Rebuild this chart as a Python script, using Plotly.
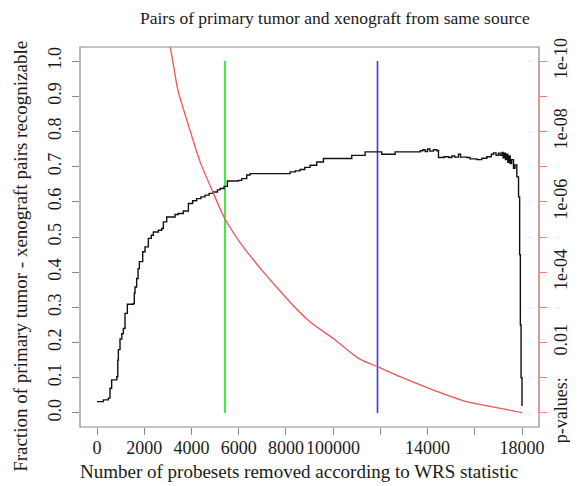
import plotly.graph_objects as go

# ---- data ----
frac_x = [0, 270, 480, 550, 620, 840, 880, 905, 975, 1050, 1115, 1186, 1285, 1540, 1580, 1610,
          1680, 1740, 1794, 1935, 2034, 2175, 2300, 2387, 2600, 2740, 2811, 2952, 3305, 3446,
          3658, 3870, 4050, 4220, 4400, 4576, 4750, 4928, 5100, 5212, 5381, 5522, 5988, 6130,
          6342, 6483, 8037, 8178, 8400, 8602, 8800, 9025, 9308, 9590, 10790, 11356, 12060,
          12627, 13686, 13800, 13900, 14000, 14100, 14250, 14392, 14463, 14700, 14900, 15028,
          15150, 15310, 15400, 15664, 15800, 16087, 16300, 16510, 16700, 16793, 16900, 17000,
          17076, 17150, 17200, 17250, 17300, 17350, 17400, 17450, 17500, 17560, 17640, 17700,
          17781, 17853, 17900, 17930, 17960, 18000]
frac_y = [0.032, 0.037, 0.042, 0.070, 0.094, 0.103, 0.150, 0.180, 0.210, 0.225, 0.240, 0.283,
          0.309, 0.311, 0.340, 0.358, 0.382, 0.410, 0.430, 0.458, 0.472, 0.496, 0.505, 0.514,
          0.519, 0.524, 0.543, 0.557, 0.564, 0.567, 0.574, 0.595, 0.603, 0.609, 0.614, 0.619,
          0.624, 0.628, 0.634, 0.638, 0.644, 0.659, 0.661, 0.666, 0.676, 0.680, 0.680, 0.685,
          0.688, 0.692, 0.698, 0.704, 0.713, 0.723, 0.732, 0.742, 0.735, 0.742, 0.745, 0.748,
          0.743, 0.750, 0.744, 0.748, 0.745, 0.726, 0.728, 0.726, 0.730, 0.727, 0.735, 0.727,
          0.726, 0.722, 0.720, 0.724, 0.728, 0.735, 0.739, 0.732, 0.738, 0.732, 0.740, 0.725,
          0.738, 0.720, 0.735, 0.712, 0.730, 0.709, 0.720, 0.695, 0.705, 0.671, 0.614, 0.450,
          0.250, 0.100, 0.020]

# p-value curve, stored as -log10(p)
pval_x = [2900, 3100, 3430, 3640, 3940, 4360, 4860, 5400, 6000, 6900, 7600, 8300, 9000,
          10000, 11070, 11900, 12840, 14250, 15660, 17080, 17920, 18000]
pval_neglog10 = [10.9, 10.4, 9.16, 8.68, 8.03, 7.15, 6.35, 5.54, 4.90, 4.12, 3.58, 3.06, 2.60,
                 2.12, 1.55, 1.31, 1.03, 0.65, 0.32, 0.13, 0.02, 0.0]

green_x = 5420
blue_x = 11880

x_ticks = [0, 2000, 4000, 6000, 8000, 10000, 12000, 14000, 16000, 18000]
x_ticklabels = ["0", "2000", "4000", "6000", "8000", "100000", "", "14000", "", "18000"]
y_ticks = [0.0, 0.1, 0.2, 0.3, 0.4, 0.5, 0.6, 0.7, 0.8, 0.9, 1.0]
y_ticklabels = ["0.0", "0.1", "0.2", "0.3", "0.4", "0.5", "0.6", "0.7", "0.8", "0.9", "1.0"]
p_ticks = [0, 1, 2, 3, 4, 5, 6, 7, 8, 9, 10]
p_ticklabels = ["p-values:", "", "0.01", "", "1e-04", "", "1e-06", "", "1e-08", "", "1e-10"]

title = "Pairs of primary tumor and xenograft from same source"
x_title = "Number of probesets removed according to WRS statistic"
y_title = "Fraction of primary tumor - xenograft pairs recognizable"

FONT = "Liberation Serif"
GREY = "#8a8a8a"
TXT = "#1a1a1a"
TICKSIZE = 18

fig = go.Figure()
fig.add_trace(go.Scatter(x=[green_x, green_x], y=[0, 1], mode="lines",
                         line=dict(color="#40ec40", width=2), hoverinfo="skip"))
fig.add_trace(go.Scatter(x=[blue_x, blue_x], y=[0, 1], mode="lines",
                         line=dict(color="#3a3af0", width=1.6), hoverinfo="skip"))
fig.add_trace(go.Scatter(x=pval_x, y=pval_neglog10, mode="lines", yaxis="y2",
                         line=dict(color="#f25555", width=1.3, shape="spline", smoothing=0.7)))
fig.add_trace(go.Scatter(x=frac_x, y=frac_y, mode="lines", line_shape="hv",
                         line=dict(color="#111111", width=1.4)))

# the page body has an 8px margin, so the figure is 8px smaller and its margins shifted
fig.update_layout(
    template="none",
    width=570, height=478,
    margin=dict(l=72, r=39, t=39, b=59, autoexpand=False),
    paper_bgcolor="white", plot_bgcolor="white",
    showlegend=False,
    font=dict(family=FONT, color=TXT),
    xaxis=dict(range=[-720, 18720], tickvals=x_ticks, ticktext=x_ticklabels,
               ticks="outside", ticklen=7, tickcolor=GREY, tickwidth=1, tickangle=0,
               showgrid=False, zeroline=False, showline=False, automargin=False,
               ticklabelstandoff=-3,
               tickfont=dict(size=TICKSIZE, family=FONT, color=TXT)),
    yaxis=dict(range=[-0.04, 1.04], tickvals=y_ticks, ticktext=y_ticklabels,
               ticks="outside", ticklen=7, tickcolor=GREY, tickwidth=1, tickangle=-90,
               showgrid=False, zeroline=False, showline=False, automargin=False,
               ticklabelstandoff=4,
               tickfont=dict(size=TICKSIZE, family=FONT, color=TXT)),
    yaxis2=dict(range=[-0.4, 10.4], overlaying="y", side="right",
                tickvals=p_ticks, ticktext=p_ticklabels,
                ticks="outside", ticklen=7, tickcolor="#f47a7a", tickwidth=1, tickangle=-90,
                showgrid=False, zeroline=False, showline=False, automargin=False,
                ticklabelstandoff=-2,
                tickfont=dict(size=TICKSIZE, family=FONT, color=TXT)),
    shapes=[
        dict(type="rect", xref="paper", yref="paper", x0=0, x1=1, y0=0, y1=1,
             line=dict(color=GREY, width=1.2)),
        dict(type="line", xref="paper", yref="y2", x0=1, x1=1, y0=0, y1=10,
             line=dict(color="#f47a7a", width=1)),
    ],
    annotations=[
        dict(text=title, xref="paper", yref="paper", x=0.555, y=1.076,
             showarrow=False, xanchor="center", yanchor="middle",
             font=dict(size=17.5, family=FONT, color=TXT)),
        dict(text=x_title, xref="paper", yref="paper", x=0.477, y=-0.118,
             showarrow=False, xanchor="center", yanchor="middle",
             font=dict(size=19, family=FONT, color=TXT)),
        dict(text=y_title, xref="paper", yref="paper", x=-0.131, y=0.45,
             showarrow=False, xanchor="center", yanchor="middle", textangle=-90,
             font=dict(size=19, family=FONT, color=TXT)),
    ],
)

fig.write_html("out.html")
